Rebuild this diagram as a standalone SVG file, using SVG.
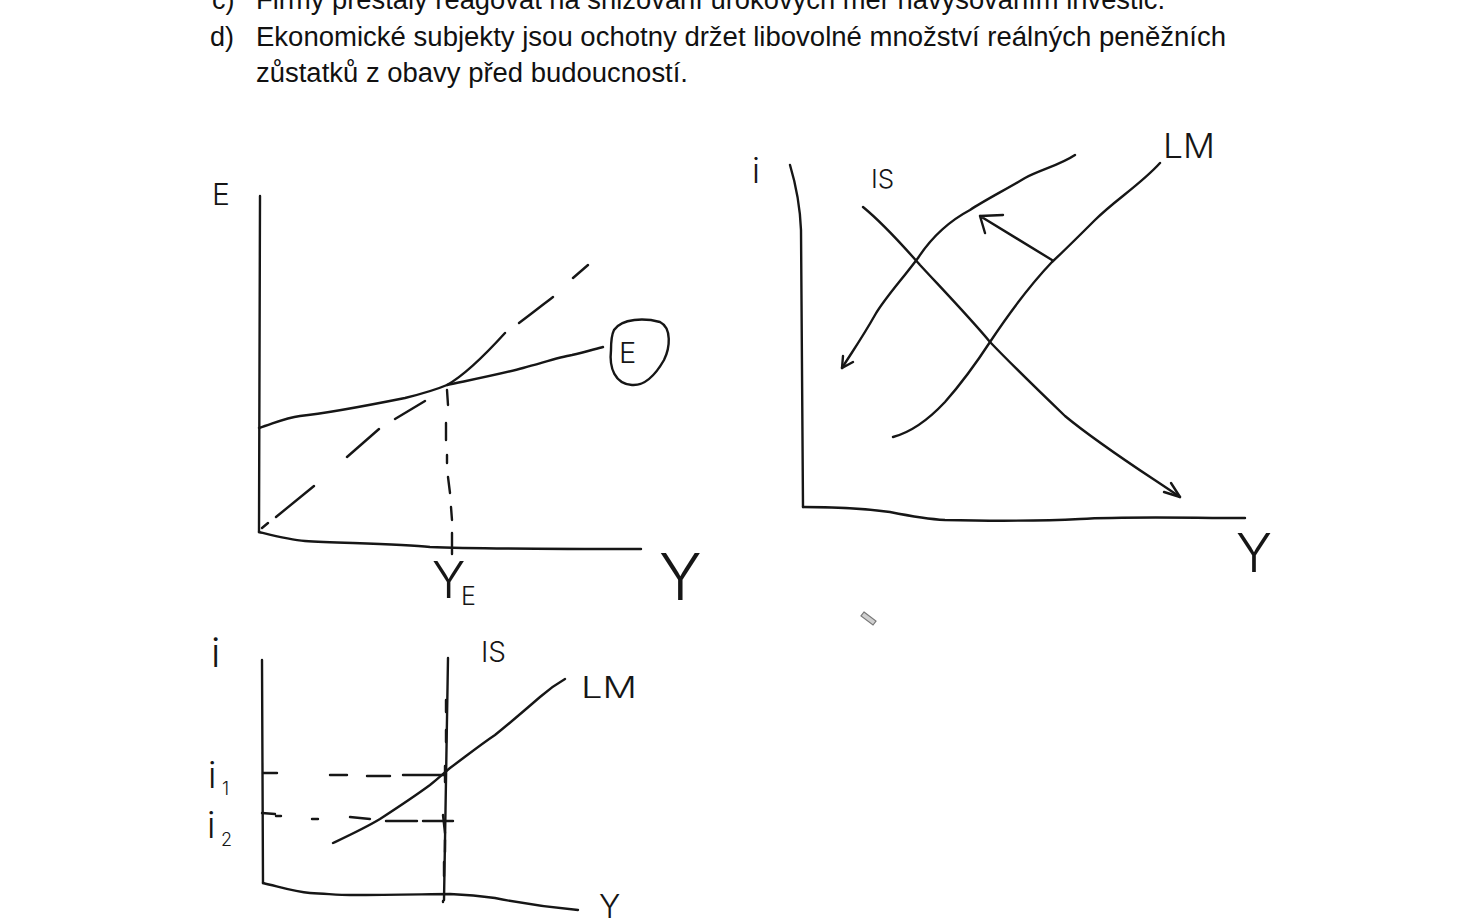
<svg xmlns="http://www.w3.org/2000/svg" width="1466" height="924" viewBox="0 0 1466 924">
<style>
.ink{fill:none;stroke:#161616;stroke-width:2.4;stroke-linecap:round;stroke-linejoin:round}
.hdr{font-family:"Liberation Sans","Open Sans",sans-serif;font-size:27px;fill:#111}
.hand{font-family:Inter,"DejaVu Sans",sans-serif;font-weight:300;fill:#161616}
</style>
<rect width="1466" height="924" fill="#ffffff"/>
<g id="header">
<text class="hdr" x="212" y="9">c)</text>
<text class="hdr" x="256" y="9" textLength="909" lengthAdjust="spacingAndGlyphs">Firmy přestaly reagovat na snižování úrokových měr navyšováním investic.</text>
<text class="hdr" x="210" y="46">d)</text>
<text class="hdr" x="256" y="46" textLength="970" lengthAdjust="spacingAndGlyphs">Ekonomické subjekty jsou ochotny držet libovolné množství reálných peněžních</text>
<text class="hdr" x="256" y="82" textLength="432" lengthAdjust="spacingAndGlyphs">zůstatků z obavy před budoucností.</text>
</g>
<g id="graph-keynes">
<path class="ink" d="M260,196 L259,532"/>
<path class="ink" d="M259,532 C275,536 290,540 305,541 C340,543 400,544 430,547 C480,549 560,549 641,549"/>
<path class="ink" d="M259,428 C275,423 285,418 300,416 C330,413 370,405 405,398 C425,393 440,388 447,385 C480,378 505,373 523,368 C545,362 560,357 572,355 C585,352 595,349 603,347"/>
<path class="ink" d="M262,528 L268,523 M276,517 L314,486 M347,457 L379,429 M395,419 L425,401 M447,385 C465,375 485,355 505,333 M519,323 C530,315 545,303 553,297 M573,278 L588,265"/>
<path class="ink" d="M447,390 L448,405 M446,423 L446,440 M447,455 L447,463 M448,477 L450,493 M451,507 L452,520 M452,533 L452,554"/>
<path class="ink" d="M614,330 C622,318 645,318 660,322 C672,328 670,348 664,360 C656,374 646,386 632,385 C615,384 609,368 611,350 C611,340 612,334 614,330"/>
<text class="hand" x="212" y="205" font-size="30">E</text>
<text class="hand" x="619" y="363" font-size="29">E</text>
<text class="hand" x="659" y="600" font-size="64">Y</text>
<text class="hand" x="432" y="598" font-size="50">Y</text>
<text class="hand" x="461" y="605" font-size="25">E</text>
</g>
<g id="graph-islm-shift">
<path class="ink" d="M790,165 C796,185 800,205 801,230 L803,507"/>
<path class="ink" d="M803,507 C830,507 860,508 890,512 C910,516 925,519 945,520 C990,521 1040,521 1080,519 C1130,516 1190,518 1245,518"/>
<path class="ink" d="M863,207 C885,225 905,248 920,265 C945,292 970,318 990,342 C1015,368 1040,392 1065,416 C1100,445 1140,470 1180,497"/>
<path class="ink" d="M1164,492 L1180,497 L1171,483"/>
<path class="ink" d="M1075,155 C1060,165 1040,170 1025,178 C1005,190 985,200 970,210 C955,218 935,232 918,258 C900,282 885,298 875,315 C862,338 852,352 842,368"/>
<path class="ink" d="M843,356 L842,368 L853,362"/>
<path class="ink" d="M1160,163 C1140,185 1115,200 1095,220 C1080,235 1065,250 1052,262 C1030,285 1010,312 990,342 C975,365 960,385 945,402 C930,418 912,432 893,437"/>
<path class="ink" d="M1052,260 L980,216 M1003,215 L980,216 L985,233"/>
<text class="hand" x="752" y="183" font-size="34">i</text>
<text class="hand" x="871" y="188" font-size="26">IS</text>
<text class="hand" x="1163" y="158" font-size="34" textLength="52" lengthAdjust="spacingAndGlyphs">LM</text>
<text class="hand" x="1236" y="572" font-size="54">Y</text>
</g>
<g id="graph-islm-vertical">
<path class="ink" d="M262,660 L263,883"/>
<path class="ink" d="M263,883 C280,887 295,892 310,893 C330,894 340,895 350,895 C400,895 430,894 450,894 C470,895 480,896 495,898 C520,903 545,907 578,910"/>
<path class="ink" d="M448,658 L446,780 L444,900"/>
<path class="ink" d="M333,843 C350,835 365,828 380,819 C400,806 415,796 430,785 C440,777 445,772 450,768 C465,757 480,745 495,735 C510,723 525,710 540,697 C550,688 558,683 565,679"/>
<path class="ink" d="M263,773 L277,773 M330,775 L347,775 M367,776 L390,776 M403,775 L443,775 M445,766 L445,782"/>
<path class="ink" d="M262,813 L275,814 M276,816 L281,816 M312,819 L318,819 M350,817 L370,819 M386,821 L417,821 M423,821 L453,821"/>
<path class="ink" d="M443,815 L445,833" stroke-width="4"/>
<path class="ink" d="M446,700 L446,712 M446,730 L446,742 M445,840 L445,852 M444,862 L444,876 M443,901 L443,902"/>
<text class="hand" x="211" y="667" font-size="40">i</text>
<text class="hand" x="481" y="662" font-size="28">IS</text>
<text class="hand" x="581" y="698" font-size="30" textLength="56" lengthAdjust="spacingAndGlyphs">LM</text>
<text class="hand" x="208" y="788" font-size="36">i</text>
<text class="hand" x="222" y="795" font-size="18">1</text>
<text class="hand" x="207" y="838" font-size="36">i</text>
<text class="hand" x="221" y="846" font-size="18">2</text>
<text class="hand" x="599" y="918" font-size="32">Y</text>
</g>
<g id="cursor">
<path d="M864,612 L876,621 L873,625 L861,616 Z" fill="#cfcfcf" stroke="#777" stroke-width="1.2"/>
</g>
</svg>
